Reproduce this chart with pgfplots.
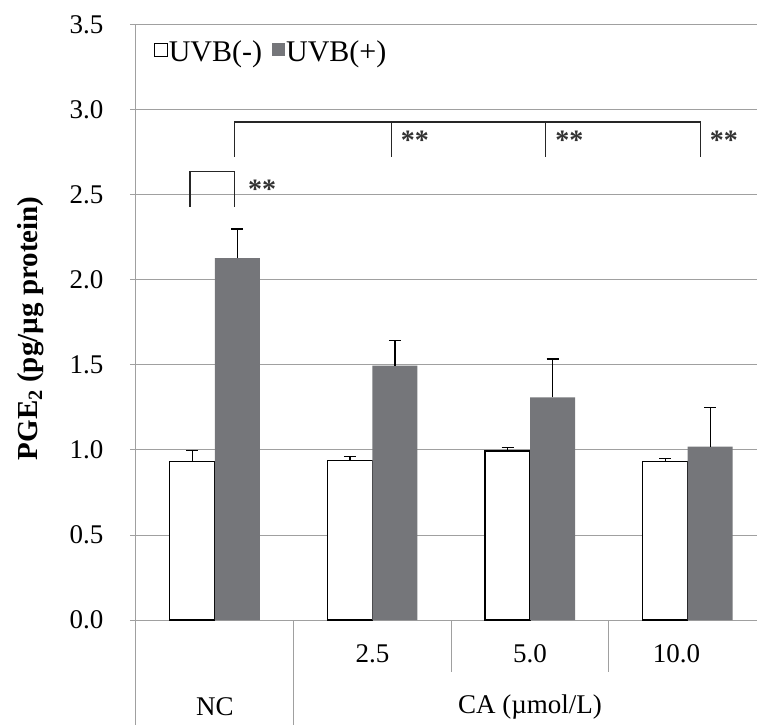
\documentclass[border=0pt]{standalone}
\usepackage{fontspec}
\setmainfont{Liberation Serif}
\usepackage{pgfplots}
\pgfplotsset{compat=1.18}
\definecolor{barGray}{RGB}{117,118,122}
\definecolor{gridGray}{RGB}{160,160,160}
\newcommand\ff{\fontsize{27}{32}\selectfont}
\newcommand\fl{\fontsize{30}{34}\selectfont}
\begin{document}
\begin{tikzpicture}
\begin{axis}[
  scale only axis, width=621pt, height=595pt,
  xmin=-0.5, xmax=3.44, ymin=0, ymax=3.5,
  ybar=0pt, bar width=45pt,
  axis x line=bottom, axis y line=left,
  axis line style={gridGray, line width=1pt, -},
  xtick=\empty,
  ytick={0,0.5,1,1.5,2,2.5,3,3.5},
  ymajorgrids, grid style={gridGray, line width=1pt},
  tick align=outside, major tick length=6pt,
  tick style={gridGray, line width=1pt},
  /pgf/number format/assume math mode=true,
  yticklabel style={/pgf/number format/.cd, fixed, fixed zerofill, precision=1, /tikz/.cd, font=\ff, xshift=-23pt},
  ylabel={\textbf{PGE\textsubscript{2} (pg/µg protein)}},
  ylabel style={font=\fontsize{29}{34}\selectfont, at={(axis description cs:-0.17,0.49)}, anchor=center},
  clip=false,
  legend style={at={(axis cs:-0.39,3.34)}, anchor=west, draw=none, fill=none, font=\fl, legend columns=2,
    /tikz/every even column/.append style={column sep=8pt}, inner sep=0pt, nodes={inner sep=1.5pt}},
]
\addplot[fill=white, draw=black, line width=1.2pt,
  legend image code/.code={\draw[fill=white, draw=black, line width=0.8pt] (0pt,-4pt) rectangle (13pt,9pt);},
  error bars/.cd, y dir=plus, y explicit,
  error bar style={black, line width=1.2pt},
  error mark options={rotate=90, mark size=6pt, line width=1.2pt, black}]
  coordinates {(0,0.93) +- (0,0.065) (1,0.94) +- (0,0.02) (2,0.994) +- (0,0.02) (3,0.93) +- (0,0.022)};
\addplot[fill=barGray, draw=none,
  legend image code/.code={\fill[barGray] (0pt,-4pt) rectangle (13pt,9pt);},
  error bars/.cd, y dir=plus, y explicit,
  error bar style={black, line width=1.2pt},
  error mark options={rotate=90, mark size=6pt, line width=1.2pt, black}]
  coordinates {(0,2.128) +- (0,0.172) (1,1.496) +- (0,0.147) (2,1.31) +- (0,0.225) (3,1.02) +- (0,0.23)};
\legend{UVB(-),UVB(+)}
% significance brackets
\draw[black!85, line width=1.3pt] (axis cs:0.127,2.725) -- (axis cs:0.127,2.93) -- (axis cs:3.08,2.93) -- (axis cs:3.08,2.725);
\draw[black!85, line width=1.3pt] (axis cs:1.12,2.93) -- (axis cs:1.12,2.725);
\draw[black!85, line width=1.3pt] (axis cs:2.10,2.93) -- (axis cs:2.10,2.725);
\draw[black!85, line width=1.3pt] (axis cs:-0.158,2.43) -- (axis cs:-0.158,2.637) -- (axis cs:0.127,2.637) -- (axis cs:0.127,2.43);
\node[anchor=base west, font=\fontsize{28}{30}\selectfont\bfseries, inner sep=0pt, text=black!80] at (axis cs:0.21,2.48) {**};
\node[anchor=base west, font=\fontsize{28}{30}\selectfont\bfseries, inner sep=0pt, text=black!80] at (axis cs:1.18,2.77) {**};
\node[anchor=base west, font=\fontsize{28}{30}\selectfont\bfseries, inner sep=0pt, text=black!80] at (axis cs:2.16,2.77) {**};
\node[anchor=base west, font=\fontsize{28}{30}\selectfont\bfseries, inner sep=0pt, text=black!80] at (axis cs:3.14,2.77) {**};
% category dividers
\draw[gridGray, line width=1pt] (axis cs:-0.5,0) -- ([yshift=-105pt]axis cs:-0.5,0);
\draw[gridGray, line width=1pt] (axis cs:0.5,0) -- ([yshift=-105pt]axis cs:0.5,0);
\draw[gridGray, line width=1pt] (axis cs:1.5,0) -- ([yshift=-52pt]axis cs:1.5,0);
\draw[gridGray, line width=1pt] (axis cs:2.5,0) -- ([yshift=-52pt]axis cs:2.5,0);
% category labels
\node[font=\ff] at ([yshift=-34pt]axis cs:1,0) {2.5};
\node[font=\ff] at ([yshift=-34pt]axis cs:2,0) {5.0};
\node[font=\ff] at ([yshift=-34pt]axis cs:2.93,0) {10.0};
\node[font=\ff] at ([yshift=-87pt]axis cs:0,0) {NC};
\node[font=\ff] at ([yshift=-87pt]axis cs:2.0,0) {CA (µmol/L)};
\coordinate (bl) at (rel axis cs:0,0);
\coordinate (tr) at (rel axis cs:1,1);
\end{axis}
\pgfresetboundingbox
\path ([xshift=-136pt,yshift=-105pt]bl) rectangle ([yshift=25pt]tr);
\end{tikzpicture}
\end{document}
